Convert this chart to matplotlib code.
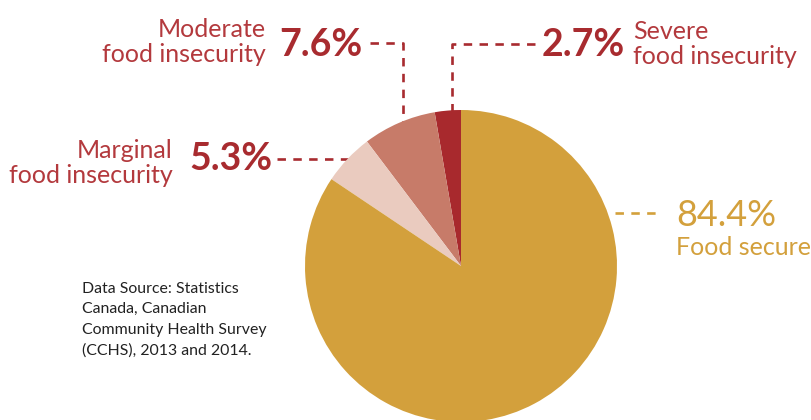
import matplotlib
matplotlib.use("Agg")
import matplotlib.pyplot as plt

categories = ["Severe\nfood insecurity", "Moderate\nfood insecurity",
              "Marginal\nfood insecurity", "Food secure"]
values = [2.7, 7.6, 5.3, 84.4]
pct_labels = ["2.7%", "7.6%", "5.3%", "84.4%"]
colors = ["#A8292D", "#C77B69", "#EACBBF", "#D3A03C"]
source = "Data Source: Statistics\nCanada, Canadian\nCommunity Health Survey\n(CCHS), 2013 and 2014."

W, H = 812, 420
fig = plt.figure(figsize=(W / 100, H / 100), dpi=100)
ax = fig.add_axes([0, 0, 1, 1])

def Y(y):
    return H - y

cx, cy, r = 461, Y(266), 156
ax.pie(values, colors=colors, startangle=90, counterclock=True,
       center=(cx, cy), radius=r, wedgeprops=dict(linewidth=0), frame=True)
ax.set_xlim(0, W)
ax.set_ylim(0, H)
ax.set_aspect("auto")
ax.axis("off")

red = "#A82B2F"
lab = "#B3393D"
gold = "#D3A03C"
ls = dict(color=red, lw=1.9, dashes=(3.2, 2.8), zorder=0.5)

# leader lines
ax.plot([370, 403, 403], [Y(43), Y(43), Y(122)], **ls)
ax.plot([535, 452, 452], [Y(44), Y(44), Y(112)], **ls)
ax.plot([277, 352], [Y(159), Y(159)], **ls)
ax.plot([615, 660], [Y(213), Y(213)], color=gold, lw=1.9, dashes=(3.2, 2.8))

fam = ["Lato", "DejaVu Sans"]
lsz = 18
psz = 27
# Moderate
ax.text(266, Y(62), categories[1], ha="right", va="baseline", fontsize=lsz,
        color=lab, family=fam, linespacing=1.12)
ax.text(279, Y(56), pct_labels[1], ha="left", va="baseline", fontsize=psz,
        color=red, family=fam, fontweight="bold")
# Severe
ax.text(542, Y(56), pct_labels[0], ha="left", va="baseline", fontsize=psz,
        color=red, family=fam, fontweight="bold")
ax.text(633, Y(64), categories[0], ha="left", va="baseline", fontsize=lsz,
        color=lab, family=fam, linespacing=1.12)
# Marginal
ax.text(173, Y(183), categories[2], ha="right", va="baseline", fontsize=lsz,
        color=lab, family=fam, linespacing=1.12)
ax.text(189, Y(170), pct_labels[2], ha="left", va="baseline", fontsize=psz,
        color=red, family=fam, fontweight="bold")
# Food secure
ax.text(676, Y(226), pct_labels[3], ha="left", va="baseline", fontsize=26,
        color=gold, family=fam)
ax.text(676, Y(255), categories[3], ha="left", va="baseline", fontsize=lsz,
        color=gold, family=fam)
# Source
ax.text(82, Y(355), source, ha="left", va="baseline", fontsize=11.4,
        color="#222222", family=fam, linespacing=1.6)

fig.savefig("out.png", dpi=100)
